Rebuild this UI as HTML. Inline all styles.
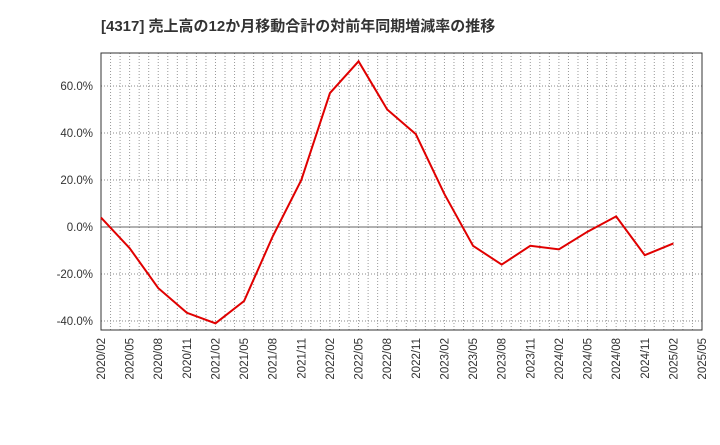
<!DOCTYPE html>
<html><head><meta charset="utf-8"><style>
body{margin:0;background:#fff;}
svg text{font-family:"Liberation Sans","Noto Sans CJK JP",sans-serif;}
</style></head><body>
<svg id="chart" width="720" height="440">
<text x="101" y="31" font-size="15" font-weight="bold" fill="#333">[4317]  売上高の12か月移動合計の対前年同期増減率の推移</text>
<g id="grid"></g><g id="axes"></g>
<path id="line" fill="none" stroke="#e00000" stroke-width="2"/>
</svg>
<script>
const categories=["2020/02","2020/05","2020/08","2020/11","2021/02","2021/05","2021/08","2021/11","2022/02","2022/05","2022/08","2022/11","2023/02","2023/05","2023/08","2023/11","2024/02","2024/05","2024/08","2024/11","2025/02"];
const values=[4,-9,-26,-36.5,-41,-31.5,-4,20,57,70.5,50,39.5,14,-8,-16,-8,-9.5,-2,4.5,-12,-7];
const xTickLabels=["2020/02","2020/05","2020/08","2020/11","2021/02","2021/05","2021/08","2021/11","2022/02","2022/05","2022/08","2022/11","2023/02","2023/05","2023/08","2023/11","2024/02","2024/05","2024/08","2024/11","2025/02","2025/05"];
const yTicks=[-40,-20,0,20,40,60];
const L=101,R=702,T=53,B=330;
const x=i=>L+(R-L)*i/(xTickLabels.length-1);
const y=v=>227-v*47/20;
const ns="http://www.w3.org/2000/svg";
const grid=document.getElementById('grid'),axes=document.getElementById('axes');
function mk(tag,attrs,parent){const e=document.createElementNS(ns,tag);for(const k in attrs)e.setAttribute(k,attrs[k]);parent.appendChild(e);return e;}
const nq=xTickLabels.length-1;
for(let m=1;m<nq*3;m++){const xx=L+(R-L)*m/(nq*3);
const g=mk('line',{x1:xx,x2:xx,y1:T,y2:B,stroke:'#999','stroke-dasharray':'1,2'},grid);

}
yTicks.forEach(v=>{const yy=y(v);
const g=mk('line',{x1:L,x2:R,y1:yy,y2:yy,stroke:v===0?'#666':'#888','stroke-dasharray':v===0?'none':'1,2'},grid);


const t=mk('text',{x:L-8,y:yy+4,'text-anchor':'end','font-size':'11.5',fill:'#333'},axes);t.textContent=v.toFixed(1)+'%';

});
xTickLabels.forEach((s,i)=>{const xx=x(i);
const t=mk('text',{transform:`translate(${xx+4},${B+8}) rotate(-90)`,'text-anchor':'end','font-size':'11.5',fill:'#333'},axes);t.textContent=s;

});
const fr=mk('rect',{x:L,y:T,width:R-L,height:B-T,fill:'none',stroke:'#333'},axes);


document.getElementById('line').setAttribute('d',values.map((v,i)=>(i?'L':'M')+x(i)+','+y(v)).join(''));
</script>
</body></html>
